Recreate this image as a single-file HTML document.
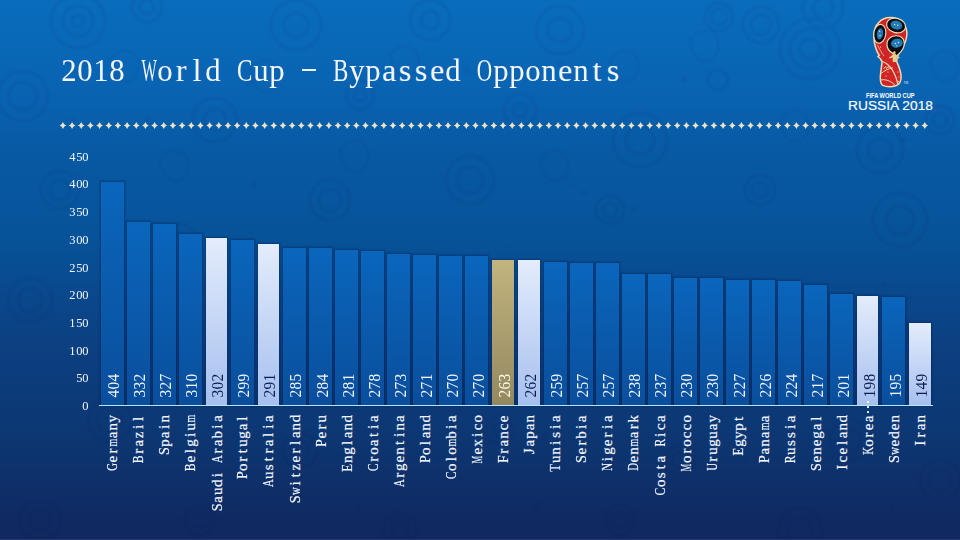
<!DOCTYPE html>
<html><head><meta charset="utf-8"><title>2018 World Cup - Bypassed Opponents</title>
<style>
*{margin:0;padding:0;box-sizing:border-box}
html,body{width:960px;height:540px;overflow:hidden}
body{position:relative;font-family:"Liberation Serif",serif;
background:linear-gradient(180deg,rgb(9,108,188) 0px,rgb(9,105,185) 35px,rgb(9,98,176) 100px,rgb(7,89,162) 155px,rgb(7,86,158) 200px,rgb(7,82,152) 240px,rgb(8,76,145) 275px,rgb(10,70,137) 305px,rgb(12,62,126) 360px,rgb(12,56,116) 425px,rgb(14,48,106) 480px,rgb(16,41,95) 530px,rgb(16,40,94) 540px);}
i{display:inline-block;font-style:normal;text-align:center;white-space:pre;vertical-align:top}
b{display:inline-block;font-weight:normal;text-align:center}
.abs{position:absolute;left:0;top:0}
.title{position:absolute;color:#f4f6ff;white-space:nowrap}
.bar{position:absolute;box-shadow:0 0 2px 1px rgba(0,15,55,.35)}
.bar.b{background:linear-gradient(180deg,#0a66bc,#0a4e9c)}
.bar.l{background:linear-gradient(180deg,#e4ecfc,#a6c0ef)}
.bar.g{background:linear-gradient(180deg,#c2b47e,#938860)}
.axis{position:absolute;left:99px;top:405px;width:834px;height:1px;background:#b8e4ff}
.rot{position:absolute;white-space:nowrap;transform:rotate(-90deg);color:#f2f6ff;-webkit-text-stroke:0.2px currentColor}
.val{-webkit-text-stroke:0}
.val.l{color:#0c1c52}
.val.g{color:#fffbe6}
.yl{position:absolute;white-space:nowrap;color:#f2f6ff}
</style></head>
<body>
<svg class="abs" width="960" height="540" viewBox="0 0 960 540"><defs><filter id="bl" x="-5%" y="-5%" width="110%" height="110%"><feGaussianBlur stdDeviation="0.9"/></filter></defs><g filter="url(#bl)"><g fill="none" stroke="#022a66" opacity="0.065"><circle cx="78" cy="21" r="27" stroke-width="3.2"/><circle cx="78" cy="21" r="15" stroke-width="3.2"/><circle cx="78" cy="21" r="6" stroke-width="3.2"/><circle cx="147" cy="7" r="15" stroke-width="3.2"/><circle cx="147" cy="7" r="7" stroke-width="3.2"/><circle cx="23" cy="96" r="25" stroke-width="3.2"/><circle cx="23" cy="96" r="14" stroke-width="3.2"/><circle cx="296" cy="25" r="25" stroke-width="3.2"/><circle cx="296" cy="25" r="12" stroke-width="3.2"/><circle cx="719" cy="17" r="14" stroke-width="3.2"/><circle cx="719" cy="17" r="8" stroke-width="3.2"/><circle cx="761" cy="25" r="18" stroke-width="3.2"/><circle cx="761" cy="25" r="10" stroke-width="3.2"/><circle cx="810" cy="49" r="30" stroke-width="3.2"/><circle cx="810" cy="49" r="20" stroke-width="3.2"/><circle cx="810" cy="49" r="10" stroke-width="3.2"/><circle cx="718" cy="80" r="10" stroke-width="3.2"/><circle cx="823" cy="8" r="20" stroke-width="3.2"/><circle cx="823" cy="8" r="10" stroke-width="3.2"/><circle cx="430" cy="20" r="20" stroke-width="3.2"/><circle cx="430" cy="20" r="9" stroke-width="3.2"/><circle cx="560" cy="30" r="24" stroke-width="3.2"/><circle cx="560" cy="30" r="12" stroke-width="3.2"/><circle cx="520" cy="110" r="16" stroke-width="3.2"/><circle cx="520" cy="110" r="7" stroke-width="3.2"/><circle cx="215" cy="120" r="22" stroke-width="3.2"/><circle cx="215" cy="120" r="11" stroke-width="3.2"/><circle cx="360" cy="95" r="14" stroke-width="3.2"/><circle cx="360" cy="95" r="6" stroke-width="3.2"/><circle cx="60" cy="190" r="19" stroke-width="3.2"/><circle cx="60" cy="190" r="10" stroke-width="3.2"/><circle cx="180" cy="240" r="16" stroke-width="3.2"/><circle cx="180" cy="240" r="8" stroke-width="3.2"/><circle cx="330" cy="200" r="20" stroke-width="3.2"/><circle cx="330" cy="200" r="11" stroke-width="3.2"/><circle cx="470" cy="180" r="24" stroke-width="3.2"/><circle cx="470" cy="180" r="13" stroke-width="3.2"/><circle cx="610" cy="210" r="14" stroke-width="3.2"/><circle cx="610" cy="210" r="7" stroke-width="3.2"/><circle cx="760" cy="190" r="15" stroke-width="3.2"/><circle cx="760" cy="190" r="8" stroke-width="3.2"/><circle cx="900" cy="220" r="27" stroke-width="3.2"/><circle cx="900" cy="220" r="14" stroke-width="3.2"/><circle cx="30" cy="300" r="22" stroke-width="3.2"/><circle cx="30" cy="300" r="12" stroke-width="3.2"/><circle cx="250" cy="330" r="15" stroke-width="3.2"/><circle cx="250" cy="330" r="8" stroke-width="3.2"/><circle cx="420" cy="300" r="19" stroke-width="3.2"/><circle cx="420" cy="300" r="10" stroke-width="3.2"/><circle cx="580" cy="320" r="23" stroke-width="3.2"/><circle cx="580" cy="320" r="12" stroke-width="3.2"/><circle cx="720" cy="300" r="14" stroke-width="3.2"/><circle cx="720" cy="300" r="7" stroke-width="3.2"/><circle cx="880" cy="330" r="28" stroke-width="3.2"/><circle cx="880" cy="330" r="15" stroke-width="3.2"/><circle cx="110" cy="420" r="22" stroke-width="3.2"/><circle cx="110" cy="420" r="12" stroke-width="3.2"/><circle cx="300" cy="450" r="17" stroke-width="3.2"/><circle cx="300" cy="450" r="9" stroke-width="3.2"/><circle cx="500" cy="430" r="14" stroke-width="3.2"/><circle cx="500" cy="430" r="7" stroke-width="3.2"/><circle cx="680" cy="460" r="15" stroke-width="3.2"/><circle cx="680" cy="460" r="8" stroke-width="3.2"/><circle cx="850" cy="440" r="20" stroke-width="3.2"/><circle cx="850" cy="440" r="11" stroke-width="3.2"/><circle cx="40" cy="520" r="20" stroke-width="3.2"/><circle cx="40" cy="520" r="11" stroke-width="3.2"/><circle cx="200" cy="520" r="15" stroke-width="3.2"/><circle cx="200" cy="520" r="8" stroke-width="3.2"/><circle cx="400" cy="530" r="17" stroke-width="3.2"/><circle cx="400" cy="530" r="9" stroke-width="3.2"/><circle cx="620" cy="520" r="15" stroke-width="3.2"/><circle cx="620" cy="520" r="8" stroke-width="3.2"/><circle cx="800" cy="530" r="22" stroke-width="3.2"/><circle cx="800" cy="530" r="12" stroke-width="3.2"/><circle cx="940" cy="480" r="20" stroke-width="3.2"/><circle cx="940" cy="480" r="11" stroke-width="3.2"/><circle cx="940" cy="120" r="14" stroke-width="3.2"/><circle cx="940" cy="120" r="7" stroke-width="3.2"/><circle cx="640" cy="140" r="27" stroke-width="3.2"/><circle cx="640" cy="140" r="14" stroke-width="3.2"/><circle cx="880" cy="150" r="23" stroke-width="3.2"/><circle cx="880" cy="150" r="12" stroke-width="3.2"/><path d="M110 60 c12 -18 32 -8 28 10 c-4 16 -24 18 -28 -10z" stroke-width="2.2"/><path d="M250 70 c12 -18 32 -8 28 10 c-4 16 -24 18 -28 -10z" stroke-width="2.2"/><path d="M390 55 c12 -18 32 -8 28 10 c-4 16 -24 18 -28 -10z" stroke-width="2.2"/><path d="M610 60 c12 -18 32 -8 28 10 c-4 16 -24 18 -28 -10z" stroke-width="2.2"/><path d="M690 40 c12 -18 32 -8 28 10 c-4 16 -24 18 -28 -10z" stroke-width="2.2"/><path d="M930 60 c12 -18 32 -8 28 10 c-4 16 -24 18 -28 -10z" stroke-width="2.2"/><path d="M160 160 c12 -18 32 -8 28 10 c-4 16 -24 18 -28 -10z" stroke-width="2.2"/><path d="M540 160 c12 -18 32 -8 28 10 c-4 16 -24 18 -28 -10z" stroke-width="2.2"/><path d="M780 120 c12 -18 32 -8 28 10 c-4 16 -24 18 -28 -10z" stroke-width="2.2"/><path d="M340 150 c12 -18 32 -8 28 10 c-4 16 -24 18 -28 -10z" stroke-width="2.2"/></g><g fill="#022a66" opacity="0.06"><circle cx="147" cy="120" r="3.1"/><circle cx="573" cy="185" r="2.2"/><circle cx="584" cy="192" r="2.7"/><circle cx="560" cy="64" r="3.1"/><circle cx="633" cy="210" r="3.0"/><circle cx="544" cy="437" r="3.6"/><circle cx="476" cy="464" r="2.7"/><circle cx="254" cy="184" r="3.4"/><circle cx="249" cy="83" r="3.1"/><circle cx="537" cy="506" r="3.8"/><circle cx="746" cy="459" r="2.6"/><circle cx="74" cy="120" r="3.0"/><circle cx="168" cy="350" r="2.3"/><circle cx="500" cy="431" r="2.1"/><circle cx="684" cy="79" r="3.5"/><circle cx="586" cy="321" r="2.7"/><circle cx="358" cy="508" r="3.2"/><circle cx="467" cy="70" r="3.7"/><circle cx="276" cy="485" r="3.4"/><circle cx="66" cy="62" r="3.5"/><circle cx="317" cy="456" r="2.6"/><circle cx="395" cy="355" r="2.0"/><circle cx="472" cy="363" r="2.3"/><circle cx="119" cy="505" r="2.1"/><circle cx="786" cy="294" r="2.3"/><circle cx="253" cy="407" r="2.8"/><circle cx="892" cy="508" r="2.2"/><circle cx="459" cy="411" r="3.1"/><circle cx="904" cy="140" r="3.6"/><circle cx="884" cy="285" r="3.4"/></g></g></svg>
<svg class="abs" width="960" height="540" viewBox="0 0 960 540"><path d="M62.90 121.90L64.15 124.15L66.20 125.40L64.15 126.65L62.90 128.90L61.65 126.65L59.60 125.40L61.65 124.15ZM72.07 121.90L73.32 124.15L75.37 125.40L73.32 126.65L72.07 128.90L70.82 126.65L68.77 125.40L70.82 124.15ZM81.24 121.90L82.49 124.15L84.54 125.40L82.49 126.65L81.24 128.90L79.99 126.65L77.94 125.40L79.99 124.15ZM90.41 121.90L91.66 124.15L93.71 125.40L91.66 126.65L90.41 128.90L89.16 126.65L87.11 125.40L89.16 124.15ZM99.58 121.90L100.83 124.15L102.88 125.40L100.83 126.65L99.58 128.90L98.33 126.65L96.28 125.40L98.33 124.15ZM108.75 121.90L110.00 124.15L112.05 125.40L110.00 126.65L108.75 128.90L107.50 126.65L105.45 125.40L107.50 124.15ZM117.91 121.90L119.16 124.15L121.21 125.40L119.16 126.65L117.91 128.90L116.66 126.65L114.61 125.40L116.66 124.15ZM127.08 121.90L128.33 124.15L130.38 125.40L128.33 126.65L127.08 128.90L125.83 126.65L123.78 125.40L125.83 124.15ZM136.25 121.90L137.50 124.15L139.55 125.40L137.50 126.65L136.25 128.90L135.00 126.65L132.95 125.40L135.00 124.15ZM145.42 121.90L146.67 124.15L148.72 125.40L146.67 126.65L145.42 128.90L144.17 126.65L142.12 125.40L144.17 124.15ZM154.59 121.90L155.84 124.15L157.89 125.40L155.84 126.65L154.59 128.90L153.34 126.65L151.29 125.40L153.34 124.15ZM163.76 121.90L165.01 124.15L167.06 125.40L165.01 126.65L163.76 128.90L162.51 126.65L160.46 125.40L162.51 124.15ZM172.93 121.90L174.18 124.15L176.23 125.40L174.18 126.65L172.93 128.90L171.68 126.65L169.63 125.40L171.68 124.15ZM182.10 121.90L183.35 124.15L185.40 125.40L183.35 126.65L182.10 128.90L180.85 126.65L178.80 125.40L180.85 124.15ZM191.27 121.90L192.52 124.15L194.57 125.40L192.52 126.65L191.27 128.90L190.02 126.65L187.97 125.40L190.02 124.15ZM200.44 121.90L201.69 124.15L203.74 125.40L201.69 126.65L200.44 128.90L199.19 126.65L197.14 125.40L199.19 124.15ZM209.61 121.90L210.86 124.15L212.91 125.40L210.86 126.65L209.61 128.90L208.36 126.65L206.31 125.40L208.36 124.15ZM218.78 121.90L220.03 124.15L222.08 125.40L220.03 126.65L218.78 128.90L217.53 126.65L215.48 125.40L217.53 124.15ZM227.94 121.90L229.19 124.15L231.24 125.40L229.19 126.65L227.94 128.90L226.69 126.65L224.64 125.40L226.69 124.15ZM237.11 121.90L238.36 124.15L240.41 125.40L238.36 126.65L237.11 128.90L235.86 126.65L233.81 125.40L235.86 124.15ZM246.28 121.90L247.53 124.15L249.58 125.40L247.53 126.65L246.28 128.90L245.03 126.65L242.98 125.40L245.03 124.15ZM255.45 121.90L256.70 124.15L258.75 125.40L256.70 126.65L255.45 128.90L254.20 126.65L252.15 125.40L254.20 124.15ZM264.62 121.90L265.87 124.15L267.92 125.40L265.87 126.65L264.62 128.90L263.37 126.65L261.32 125.40L263.37 124.15ZM273.79 121.90L275.04 124.15L277.09 125.40L275.04 126.65L273.79 128.90L272.54 126.65L270.49 125.40L272.54 124.15ZM282.96 121.90L284.21 124.15L286.26 125.40L284.21 126.65L282.96 128.90L281.71 126.65L279.66 125.40L281.71 124.15ZM292.13 121.90L293.38 124.15L295.43 125.40L293.38 126.65L292.13 128.90L290.88 126.65L288.83 125.40L290.88 124.15ZM301.30 121.90L302.55 124.15L304.60 125.40L302.55 126.65L301.30 128.90L300.05 126.65L298.00 125.40L300.05 124.15ZM310.47 121.90L311.72 124.15L313.77 125.40L311.72 126.65L310.47 128.90L309.22 126.65L307.17 125.40L309.22 124.15ZM319.64 121.90L320.89 124.15L322.94 125.40L320.89 126.65L319.64 128.90L318.39 126.65L316.34 125.40L318.39 124.15ZM328.81 121.90L330.06 124.15L332.11 125.40L330.06 126.65L328.81 128.90L327.56 126.65L325.51 125.40L327.56 124.15ZM337.97 121.90L339.22 124.15L341.27 125.40L339.22 126.65L337.97 128.90L336.72 126.65L334.67 125.40L336.72 124.15ZM347.14 121.90L348.39 124.15L350.44 125.40L348.39 126.65L347.14 128.90L345.89 126.65L343.84 125.40L345.89 124.15ZM356.31 121.90L357.56 124.15L359.61 125.40L357.56 126.65L356.31 128.90L355.06 126.65L353.01 125.40L355.06 124.15ZM365.48 121.90L366.73 124.15L368.78 125.40L366.73 126.65L365.48 128.90L364.23 126.65L362.18 125.40L364.23 124.15ZM374.65 121.90L375.90 124.15L377.95 125.40L375.90 126.65L374.65 128.90L373.40 126.65L371.35 125.40L373.40 124.15ZM383.82 121.90L385.07 124.15L387.12 125.40L385.07 126.65L383.82 128.90L382.57 126.65L380.52 125.40L382.57 124.15ZM392.99 121.90L394.24 124.15L396.29 125.40L394.24 126.65L392.99 128.90L391.74 126.65L389.69 125.40L391.74 124.15ZM402.16 121.90L403.41 124.15L405.46 125.40L403.41 126.65L402.16 128.90L400.91 126.65L398.86 125.40L400.91 124.15ZM411.33 121.90L412.58 124.15L414.63 125.40L412.58 126.65L411.33 128.90L410.08 126.65L408.03 125.40L410.08 124.15ZM420.50 121.90L421.75 124.15L423.80 125.40L421.75 126.65L420.50 128.90L419.25 126.65L417.20 125.40L419.25 124.15ZM429.67 121.90L430.92 124.15L432.97 125.40L430.92 126.65L429.67 128.90L428.42 126.65L426.37 125.40L428.42 124.15ZM438.84 121.90L440.09 124.15L442.14 125.40L440.09 126.65L438.84 128.90L437.59 126.65L435.54 125.40L437.59 124.15ZM448.00 121.90L449.25 124.15L451.30 125.40L449.25 126.65L448.00 128.90L446.75 126.65L444.70 125.40L446.75 124.15ZM457.17 121.90L458.42 124.15L460.47 125.40L458.42 126.65L457.17 128.90L455.92 126.65L453.87 125.40L455.92 124.15ZM466.34 121.90L467.59 124.15L469.64 125.40L467.59 126.65L466.34 128.90L465.09 126.65L463.04 125.40L465.09 124.15ZM475.51 121.90L476.76 124.15L478.81 125.40L476.76 126.65L475.51 128.90L474.26 126.65L472.21 125.40L474.26 124.15ZM484.68 121.90L485.93 124.15L487.98 125.40L485.93 126.65L484.68 128.90L483.43 126.65L481.38 125.40L483.43 124.15ZM493.85 121.90L495.10 124.15L497.15 125.40L495.10 126.65L493.85 128.90L492.60 126.65L490.55 125.40L492.60 124.15ZM503.02 121.90L504.27 124.15L506.32 125.40L504.27 126.65L503.02 128.90L501.77 126.65L499.72 125.40L501.77 124.15ZM512.19 121.90L513.44 124.15L515.49 125.40L513.44 126.65L512.19 128.90L510.94 126.65L508.89 125.40L510.94 124.15ZM521.36 121.90L522.61 124.15L524.66 125.40L522.61 126.65L521.36 128.90L520.11 126.65L518.06 125.40L520.11 124.15ZM530.53 121.90L531.78 124.15L533.83 125.40L531.78 126.65L530.53 128.90L529.28 126.65L527.23 125.40L529.28 124.15ZM539.70 121.90L540.95 124.15L543.00 125.40L540.95 126.65L539.70 128.90L538.45 126.65L536.40 125.40L538.45 124.15ZM548.86 121.90L550.11 124.15L552.16 125.40L550.11 126.65L548.86 128.90L547.61 126.65L545.56 125.40L547.61 124.15ZM558.03 121.90L559.28 124.15L561.33 125.40L559.28 126.65L558.03 128.90L556.78 126.65L554.73 125.40L556.78 124.15ZM567.20 121.90L568.45 124.15L570.50 125.40L568.45 126.65L567.20 128.90L565.95 126.65L563.90 125.40L565.95 124.15ZM576.37 121.90L577.62 124.15L579.67 125.40L577.62 126.65L576.37 128.90L575.12 126.65L573.07 125.40L575.12 124.15ZM585.54 121.90L586.79 124.15L588.84 125.40L586.79 126.65L585.54 128.90L584.29 126.65L582.24 125.40L584.29 124.15ZM594.71 121.90L595.96 124.15L598.01 125.40L595.96 126.65L594.71 128.90L593.46 126.65L591.41 125.40L593.46 124.15ZM603.88 121.90L605.13 124.15L607.18 125.40L605.13 126.65L603.88 128.90L602.63 126.65L600.58 125.40L602.63 124.15ZM613.05 121.90L614.30 124.15L616.35 125.40L614.30 126.65L613.05 128.90L611.80 126.65L609.75 125.40L611.80 124.15ZM622.22 121.90L623.47 124.15L625.52 125.40L623.47 126.65L622.22 128.90L620.97 126.65L618.92 125.40L620.97 124.15ZM631.39 121.90L632.64 124.15L634.69 125.40L632.64 126.65L631.39 128.90L630.14 126.65L628.09 125.40L630.14 124.15ZM640.56 121.90L641.81 124.15L643.86 125.40L641.81 126.65L640.56 128.90L639.31 126.65L637.26 125.40L639.31 124.15ZM649.73 121.90L650.98 124.15L653.03 125.40L650.98 126.65L649.73 128.90L648.48 126.65L646.43 125.40L648.48 124.15ZM658.89 121.90L660.14 124.15L662.19 125.40L660.14 126.65L658.89 128.90L657.64 126.65L655.59 125.40L657.64 124.15ZM668.06 121.90L669.31 124.15L671.36 125.40L669.31 126.65L668.06 128.90L666.81 126.65L664.76 125.40L666.81 124.15ZM677.23 121.90L678.48 124.15L680.53 125.40L678.48 126.65L677.23 128.90L675.98 126.65L673.93 125.40L675.98 124.15ZM686.40 121.90L687.65 124.15L689.70 125.40L687.65 126.65L686.40 128.90L685.15 126.65L683.10 125.40L685.15 124.15ZM695.57 121.90L696.82 124.15L698.87 125.40L696.82 126.65L695.57 128.90L694.32 126.65L692.27 125.40L694.32 124.15ZM704.74 121.90L705.99 124.15L708.04 125.40L705.99 126.65L704.74 128.90L703.49 126.65L701.44 125.40L703.49 124.15ZM713.91 121.90L715.16 124.15L717.21 125.40L715.16 126.65L713.91 128.90L712.66 126.65L710.61 125.40L712.66 124.15ZM723.08 121.90L724.33 124.15L726.38 125.40L724.33 126.65L723.08 128.90L721.83 126.65L719.78 125.40L721.83 124.15ZM732.25 121.90L733.50 124.15L735.55 125.40L733.50 126.65L732.25 128.90L731.00 126.65L728.95 125.40L731.00 124.15ZM741.42 121.90L742.67 124.15L744.72 125.40L742.67 126.65L741.42 128.90L740.17 126.65L738.12 125.40L740.17 124.15ZM750.59 121.90L751.84 124.15L753.89 125.40L751.84 126.65L750.59 128.90L749.34 126.65L747.29 125.40L749.34 124.15ZM759.76 121.90L761.01 124.15L763.06 125.40L761.01 126.65L759.76 128.90L758.51 126.65L756.46 125.40L758.51 124.15ZM768.92 121.90L770.17 124.15L772.22 125.40L770.17 126.65L768.92 128.90L767.67 126.65L765.62 125.40L767.67 124.15ZM778.09 121.90L779.34 124.15L781.39 125.40L779.34 126.65L778.09 128.90L776.84 126.65L774.79 125.40L776.84 124.15ZM787.26 121.90L788.51 124.15L790.56 125.40L788.51 126.65L787.26 128.90L786.01 126.65L783.96 125.40L786.01 124.15ZM796.43 121.90L797.68 124.15L799.73 125.40L797.68 126.65L796.43 128.90L795.18 126.65L793.13 125.40L795.18 124.15ZM805.60 121.90L806.85 124.15L808.90 125.40L806.85 126.65L805.60 128.90L804.35 126.65L802.30 125.40L804.35 124.15ZM814.77 121.90L816.02 124.15L818.07 125.40L816.02 126.65L814.77 128.90L813.52 126.65L811.47 125.40L813.52 124.15ZM823.94 121.90L825.19 124.15L827.24 125.40L825.19 126.65L823.94 128.90L822.69 126.65L820.64 125.40L822.69 124.15ZM833.11 121.90L834.36 124.15L836.41 125.40L834.36 126.65L833.11 128.90L831.86 126.65L829.81 125.40L831.86 124.15ZM842.28 121.90L843.53 124.15L845.58 125.40L843.53 126.65L842.28 128.90L841.03 126.65L838.98 125.40L841.03 124.15ZM851.45 121.90L852.70 124.15L854.75 125.40L852.70 126.65L851.45 128.90L850.20 126.65L848.15 125.40L850.20 124.15ZM860.62 121.90L861.87 124.15L863.92 125.40L861.87 126.65L860.62 128.90L859.37 126.65L857.32 125.40L859.37 124.15ZM869.79 121.90L871.04 124.15L873.09 125.40L871.04 126.65L869.79 128.90L868.54 126.65L866.49 125.40L868.54 124.15ZM878.95 121.90L880.20 124.15L882.25 125.40L880.20 126.65L878.95 128.90L877.70 126.65L875.65 125.40L877.70 124.15ZM888.12 121.90L889.37 124.15L891.42 125.40L889.37 126.65L888.12 128.90L886.87 126.65L884.82 125.40L886.87 124.15ZM897.29 121.90L898.54 124.15L900.59 125.40L898.54 126.65L897.29 128.90L896.04 126.65L893.99 125.40L896.04 124.15ZM906.46 121.90L907.71 124.15L909.76 125.40L907.71 126.65L906.46 128.90L905.21 126.65L903.16 125.40L905.21 124.15ZM915.63 121.90L916.88 124.15L918.93 125.40L916.88 126.65L915.63 128.90L914.38 126.65L912.33 125.40L914.38 124.15ZM924.80 121.90L926.05 124.15L928.10 125.40L926.05 126.65L924.80 128.90L923.55 126.65L921.50 125.40L923.55 124.15Z" fill="#ece4c8"/></svg>
<div class="title" style="left:61.0px;top:49.5px;height:40px;line-height:40px;font-size:32px"><i style="width:16px"><b style="width:16.00px;margin-left:-0.00px;transform:scaleX(0.960)">2</b></i><i style="width:16px"><b style="width:16.00px;margin-left:-0.00px;transform:scaleX(0.960)">0</b></i><i style="width:16px"><b style="width:16.00px;margin-left:-0.00px;transform:scaleX(0.960)">1</b></i><i style="width:16px"><b style="width:16.00px;margin-left:-0.00px;transform:scaleX(0.960)">8</b></i><i style="width:16px"> </i><i style="width:16px"><b style="width:30.20px;margin-left:-7.10px;transform:scaleX(0.509)">W</b></i><i style="width:16px"><b style="width:16.00px;margin-left:-0.00px;transform:scaleX(0.960)">o</b></i><i style="width:16px">r</i><i style="width:16px">l</i><i style="width:16px"><b style="width:16.00px;margin-left:-0.00px;transform:scaleX(0.960)">d</b></i><i style="width:16px"> </i><i style="width:16px"><b style="width:21.34px;margin-left:-2.67px;transform:scaleX(0.720)">C</b></i><i style="width:16px"><b style="width:16.00px;margin-left:-0.00px;transform:scaleX(0.960)">u</b></i><i style="width:16px"><b style="width:16.00px;margin-left:-0.00px;transform:scaleX(0.960)">p</b></i><i style="width:16px"> </i><i style="width:16px"> </i><i style="width:16px"> </i><i style="width:16px"><b style="width:21.34px;margin-left:-2.67px;transform:scaleX(0.720)">B</b></i><i style="width:16px"><b style="width:16.00px;margin-left:-0.00px;transform:scaleX(0.960)">y</b></i><i style="width:16px"><b style="width:16.00px;margin-left:-0.00px;transform:scaleX(0.960)">p</b></i><i style="width:16px">a</i><i style="width:16px">s</i><i style="width:16px">s</i><i style="width:16px">e</i><i style="width:16px"><b style="width:16.00px;margin-left:-0.00px;transform:scaleX(0.960)">d</b></i><i style="width:16px"> </i><i style="width:16px"><b style="width:23.11px;margin-left:-3.55px;transform:scaleX(0.665)">O</b></i><i style="width:16px"><b style="width:16.00px;margin-left:-0.00px;transform:scaleX(0.960)">p</b></i><i style="width:16px"><b style="width:16.00px;margin-left:-0.00px;transform:scaleX(0.960)">p</b></i><i style="width:16px"><b style="width:16.00px;margin-left:-0.00px;transform:scaleX(0.960)">o</b></i><i style="width:16px"><b style="width:16.00px;margin-left:-0.00px;transform:scaleX(0.960)">n</b></i><i style="width:16px">e</i><i style="width:16px"><b style="width:16.00px;margin-left:-0.00px;transform:scaleX(0.960)">n</b></i><i style="width:16px">t</i><i style="width:16px">s</i></div>
<svg class="abs" width="960" height="540" viewBox="0 0 960 540">
<path d="M890.4 17.6 C900.3 17.6 907.1 25.2 906.9 34 C906.7 41 903.9 45.8 900.9 49.7 C898.8 52.8 896.8 57.3 896.6 61.4 C898.8 66.2 901.1 71.1 901.1 77 C901.1 81.7 899.9 84.4 895.8 85.8 C891.9 86.8 886.2 86.8 882.8 85.4 C880.6 84.1 880.2 80.9 880.3 77 C880.5 71 881.9 66 882 61.8 C881.2 59.2 879.6 57.7 878 56.5 L879.3 55.4 C877 52 875.2 47 874.3 42 C873.9 39 873.9 36 874 34 C874.2 25 881 17.6 890.4 17.6 Z" fill="#cf2529" stroke="#f0dcae" stroke-width="1.5"/>
<path d="M882.2 61.5 C888.5 63.5 894.5 70 898 84.5" stroke="#f0dcae" stroke-width="1.3" fill="none"/>
<path d="M881.2 73.5 C884.5 70.5 888.5 68.5 892.8 67.8 M880.8 80 C886 78.8 892 81.5 895.5 85.8" stroke="#f0dcae" stroke-width="1" fill="none"/>
<path d="M883.5 69 L885.5 66.5 L886.5 68.5 L888.8 65.8 L889.2 68" stroke="#f0dcae" stroke-width="0.8" fill="none"/>
<path d="M877.5 45 C879.5 49 881.5 53 884 56" stroke="#f0dcae" stroke-width="0.9" fill="none" opacity="0.8"/>
<ellipse cx="896.1" cy="25.5" rx="10.2" ry="7.7" transform="rotate(16 896.1 25.5)" fill="#f0dcae"/>
<ellipse cx="896.1" cy="25.5" rx="9.1" ry="6.6" transform="rotate(16 896.1 25.5)" fill="#080a12"/>
<ellipse cx="896.4" cy="25.1" rx="6" ry="4.4" transform="rotate(16 896.4 25.1)" fill="#2478b4"/>
<ellipse cx="879.8" cy="33.8" rx="6.5" ry="10" transform="rotate(8 879.8 33.8)" fill="#f0dcae"/>
<ellipse cx="879.8" cy="33.8" rx="5.4" ry="8.9" transform="rotate(8 879.8 33.8)" fill="#080a12"/>
<ellipse cx="880" cy="33.8" rx="3.1" ry="5.7" transform="rotate(8 880 33.8)" fill="#2478b4"/>
<path d="M886.4 44.5 C886.4 38.2 891.4 35.2 896.3 35.2 C901.9 35.2 905.1 38.8 904.9 43.8 C904.6 48.5 902 51.5 899.2 54.5 L896.6 57 L894 54.8 C890 52.6 886.4 49.5 886.4 44.5 Z" fill="#f0dcae"/>
<path d="M887.6 44.5 C887.6 39 891.9 36.3 896.3 36.3 C901 36.3 903.8 39.5 903.7 43.8 C903.4 48 901 50.8 898.4 53.5 L896.5 55.3 L894.6 53.6 C890.8 51.6 887.6 48.9 887.6 44.5 Z" fill="#080a12"/>
<ellipse cx="896.9" cy="43.2" rx="6" ry="4.5" transform="rotate(-12 896.9 43.2)" fill="#2478b4"/>
<circle cx="894.4" cy="52.6" r="1.3" fill="#e8cd8c"/>
<path d="M888.8 57.8 L891.8 55.6 L893 54.2 L895.8 54.2 L897.2 55.6 L900 57.8 L898.8 58.4 L896.4 57.2 L896.2 62 L892.8 62 L892.6 57.2 L890 58.4 Z" fill="#e8cd8c"/>
<g fill="#cfeeff"><circle cx="894.6" cy="24.4" r="0.75"/><circle cx="897.8" cy="25.3" r="0.75"/><circle cx="879.5" cy="31.2" r="0.75"/><circle cx="880" cy="35.8" r="0.75"/><circle cx="895.3" cy="43.5" r="0.75"/><circle cx="898.4" cy="42.4" r="0.75"/><circle cx="896.5" cy="45.8" r="0.6"/></g>
<g fill="#f6e6c8"><circle cx="888" cy="72" r="0.6"/><circle cx="886" cy="76" r="0.6"/><circle cx="897.8" cy="72" r="0.6"/><circle cx="898.8" cy="77" r="0.6"/><circle cx="898.6" cy="81.5" r="0.6"/><circle cx="880.5" cy="47" r="0.6"/></g>
<text x="903.5" y="84" font-family="Liberation Sans" font-size="3.2" fill="#cfe6ff">TM</text>
<text x="866" y="98" font-family="Liberation Sans" font-weight="bold" font-size="6.4" fill="#fff" textLength="48.5" lengthAdjust="spacingAndGlyphs">FIFA WORLD CUP</text>
<text x="848" y="110.2" font-family="Liberation Sans" font-size="13.2" fill="#fff" textLength="85" lengthAdjust="spacingAndGlyphs" stroke="#fff" stroke-width="0.15">RUSSIA 2018</text>
</svg>

<div class="bar b" style="left:100.50px;top:181.68px;width:23.06px;height:223.82px"></div><div class="bar b" style="left:126.56px;top:221.57px;width:23.06px;height:183.93px"></div><div class="bar b" style="left:152.62px;top:224.34px;width:23.06px;height:181.16px"></div><div class="bar b" style="left:178.69px;top:233.76px;width:23.06px;height:171.74px"></div><div class="bar l" style="left:205.65px;top:238.19px;width:21.26px;height:167.31px"></div><div class="bar b" style="left:230.81px;top:239.85px;width:23.06px;height:165.65px"></div><div class="bar l" style="left:257.77px;top:244.29px;width:21.26px;height:161.21px"></div><div class="bar b" style="left:282.94px;top:247.61px;width:23.06px;height:157.89px"></div><div class="bar b" style="left:309.00px;top:248.16px;width:23.06px;height:157.34px"></div><div class="bar b" style="left:335.06px;top:249.83px;width:23.06px;height:155.67px"></div><div class="bar b" style="left:361.12px;top:251.49px;width:23.06px;height:154.01px"></div><div class="bar b" style="left:387.19px;top:254.26px;width:23.06px;height:151.24px"></div><div class="bar b" style="left:413.25px;top:255.37px;width:23.06px;height:150.13px"></div><div class="bar b" style="left:439.31px;top:255.92px;width:23.06px;height:149.58px"></div><div class="bar b" style="left:465.38px;top:255.92px;width:23.06px;height:149.58px"></div><div class="bar g" style="left:492.34px;top:259.80px;width:21.26px;height:145.70px"></div><div class="bar l" style="left:518.40px;top:260.35px;width:21.26px;height:145.15px"></div><div class="bar b" style="left:543.56px;top:262.01px;width:23.06px;height:143.49px"></div><div class="bar b" style="left:569.62px;top:263.12px;width:23.06px;height:142.38px"></div><div class="bar b" style="left:595.69px;top:263.12px;width:23.06px;height:142.38px"></div><div class="bar b" style="left:621.75px;top:273.65px;width:23.06px;height:131.85px"></div><div class="bar b" style="left:647.81px;top:274.20px;width:23.06px;height:131.30px"></div><div class="bar b" style="left:673.88px;top:278.08px;width:23.06px;height:127.42px"></div><div class="bar b" style="left:699.94px;top:278.08px;width:23.06px;height:127.42px"></div><div class="bar b" style="left:726.00px;top:279.74px;width:23.06px;height:125.76px"></div><div class="bar b" style="left:752.06px;top:280.30px;width:23.06px;height:125.20px"></div><div class="bar b" style="left:778.12px;top:281.40px;width:23.06px;height:124.10px"></div><div class="bar b" style="left:804.19px;top:285.28px;width:23.06px;height:120.22px"></div><div class="bar b" style="left:830.25px;top:294.15px;width:23.06px;height:111.35px"></div><div class="bar l" style="left:857.21px;top:295.81px;width:21.26px;height:109.69px"></div><div class="bar b" style="left:882.38px;top:297.47px;width:23.06px;height:108.03px"></div><div class="bar l" style="left:909.34px;top:322.95px;width:21.26px;height:82.55px"></div><div class="rot val b" style="left:102.03px;top:376.30px;width:24px;height:20px;line-height:20px;font-size:17px"><i style="width:8px"><b style="width:8.50px;margin-left:-0.25px;transform:scaleX(0.904)">4</b></i><i style="width:8px"><b style="width:8.50px;margin-left:-0.25px;transform:scaleX(0.904)">0</b></i><i style="width:8px"><b style="width:8.50px;margin-left:-0.25px;transform:scaleX(0.904)">4</b></i></div><div class="rot val b" style="left:128.09px;top:376.30px;width:24px;height:20px;line-height:20px;font-size:17px"><i style="width:8px"><b style="width:8.50px;margin-left:-0.25px;transform:scaleX(0.904)">3</b></i><i style="width:8px"><b style="width:8.50px;margin-left:-0.25px;transform:scaleX(0.904)">3</b></i><i style="width:8px"><b style="width:8.50px;margin-left:-0.25px;transform:scaleX(0.904)">2</b></i></div><div class="rot val b" style="left:154.16px;top:376.30px;width:24px;height:20px;line-height:20px;font-size:17px"><i style="width:8px"><b style="width:8.50px;margin-left:-0.25px;transform:scaleX(0.904)">3</b></i><i style="width:8px"><b style="width:8.50px;margin-left:-0.25px;transform:scaleX(0.904)">2</b></i><i style="width:8px"><b style="width:8.50px;margin-left:-0.25px;transform:scaleX(0.904)">7</b></i></div><div class="rot val b" style="left:180.22px;top:376.30px;width:24px;height:20px;line-height:20px;font-size:17px"><i style="width:8px"><b style="width:8.50px;margin-left:-0.25px;transform:scaleX(0.904)">3</b></i><i style="width:8px"><b style="width:8.50px;margin-left:-0.25px;transform:scaleX(0.904)">1</b></i><i style="width:8px"><b style="width:8.50px;margin-left:-0.25px;transform:scaleX(0.904)">0</b></i></div><div class="rot val l" style="left:206.28px;top:376.30px;width:24px;height:20px;line-height:20px;font-size:17px"><i style="width:8px"><b style="width:8.50px;margin-left:-0.25px;transform:scaleX(0.904)">3</b></i><i style="width:8px"><b style="width:8.50px;margin-left:-0.25px;transform:scaleX(0.904)">0</b></i><i style="width:8px"><b style="width:8.50px;margin-left:-0.25px;transform:scaleX(0.904)">2</b></i></div><div class="rot val b" style="left:232.34px;top:376.30px;width:24px;height:20px;line-height:20px;font-size:17px"><i style="width:8px"><b style="width:8.50px;margin-left:-0.25px;transform:scaleX(0.904)">2</b></i><i style="width:8px"><b style="width:8.50px;margin-left:-0.25px;transform:scaleX(0.904)">9</b></i><i style="width:8px"><b style="width:8.50px;margin-left:-0.25px;transform:scaleX(0.904)">9</b></i></div><div class="rot val l" style="left:258.41px;top:376.30px;width:24px;height:20px;line-height:20px;font-size:17px"><i style="width:8px"><b style="width:8.50px;margin-left:-0.25px;transform:scaleX(0.904)">2</b></i><i style="width:8px"><b style="width:8.50px;margin-left:-0.25px;transform:scaleX(0.904)">9</b></i><i style="width:8px"><b style="width:8.50px;margin-left:-0.25px;transform:scaleX(0.904)">1</b></i></div><div class="rot val b" style="left:284.47px;top:376.30px;width:24px;height:20px;line-height:20px;font-size:17px"><i style="width:8px"><b style="width:8.50px;margin-left:-0.25px;transform:scaleX(0.904)">2</b></i><i style="width:8px"><b style="width:8.50px;margin-left:-0.25px;transform:scaleX(0.904)">8</b></i><i style="width:8px"><b style="width:8.50px;margin-left:-0.25px;transform:scaleX(0.904)">5</b></i></div><div class="rot val b" style="left:310.53px;top:376.30px;width:24px;height:20px;line-height:20px;font-size:17px"><i style="width:8px"><b style="width:8.50px;margin-left:-0.25px;transform:scaleX(0.904)">2</b></i><i style="width:8px"><b style="width:8.50px;margin-left:-0.25px;transform:scaleX(0.904)">8</b></i><i style="width:8px"><b style="width:8.50px;margin-left:-0.25px;transform:scaleX(0.904)">4</b></i></div><div class="rot val b" style="left:336.59px;top:376.30px;width:24px;height:20px;line-height:20px;font-size:17px"><i style="width:8px"><b style="width:8.50px;margin-left:-0.25px;transform:scaleX(0.904)">2</b></i><i style="width:8px"><b style="width:8.50px;margin-left:-0.25px;transform:scaleX(0.904)">8</b></i><i style="width:8px"><b style="width:8.50px;margin-left:-0.25px;transform:scaleX(0.904)">1</b></i></div><div class="rot val b" style="left:362.66px;top:376.30px;width:24px;height:20px;line-height:20px;font-size:17px"><i style="width:8px"><b style="width:8.50px;margin-left:-0.25px;transform:scaleX(0.904)">2</b></i><i style="width:8px"><b style="width:8.50px;margin-left:-0.25px;transform:scaleX(0.904)">7</b></i><i style="width:8px"><b style="width:8.50px;margin-left:-0.25px;transform:scaleX(0.904)">8</b></i></div><div class="rot val b" style="left:388.72px;top:376.30px;width:24px;height:20px;line-height:20px;font-size:17px"><i style="width:8px"><b style="width:8.50px;margin-left:-0.25px;transform:scaleX(0.904)">2</b></i><i style="width:8px"><b style="width:8.50px;margin-left:-0.25px;transform:scaleX(0.904)">7</b></i><i style="width:8px"><b style="width:8.50px;margin-left:-0.25px;transform:scaleX(0.904)">3</b></i></div><div class="rot val b" style="left:414.78px;top:376.30px;width:24px;height:20px;line-height:20px;font-size:17px"><i style="width:8px"><b style="width:8.50px;margin-left:-0.25px;transform:scaleX(0.904)">2</b></i><i style="width:8px"><b style="width:8.50px;margin-left:-0.25px;transform:scaleX(0.904)">7</b></i><i style="width:8px"><b style="width:8.50px;margin-left:-0.25px;transform:scaleX(0.904)">1</b></i></div><div class="rot val b" style="left:440.84px;top:376.30px;width:24px;height:20px;line-height:20px;font-size:17px"><i style="width:8px"><b style="width:8.50px;margin-left:-0.25px;transform:scaleX(0.904)">2</b></i><i style="width:8px"><b style="width:8.50px;margin-left:-0.25px;transform:scaleX(0.904)">7</b></i><i style="width:8px"><b style="width:8.50px;margin-left:-0.25px;transform:scaleX(0.904)">0</b></i></div><div class="rot val b" style="left:466.91px;top:376.30px;width:24px;height:20px;line-height:20px;font-size:17px"><i style="width:8px"><b style="width:8.50px;margin-left:-0.25px;transform:scaleX(0.904)">2</b></i><i style="width:8px"><b style="width:8.50px;margin-left:-0.25px;transform:scaleX(0.904)">7</b></i><i style="width:8px"><b style="width:8.50px;margin-left:-0.25px;transform:scaleX(0.904)">0</b></i></div><div class="rot val g" style="left:492.97px;top:376.30px;width:24px;height:20px;line-height:20px;font-size:17px"><i style="width:8px"><b style="width:8.50px;margin-left:-0.25px;transform:scaleX(0.904)">2</b></i><i style="width:8px"><b style="width:8.50px;margin-left:-0.25px;transform:scaleX(0.904)">6</b></i><i style="width:8px"><b style="width:8.50px;margin-left:-0.25px;transform:scaleX(0.904)">3</b></i></div><div class="rot val l" style="left:519.03px;top:376.30px;width:24px;height:20px;line-height:20px;font-size:17px"><i style="width:8px"><b style="width:8.50px;margin-left:-0.25px;transform:scaleX(0.904)">2</b></i><i style="width:8px"><b style="width:8.50px;margin-left:-0.25px;transform:scaleX(0.904)">6</b></i><i style="width:8px"><b style="width:8.50px;margin-left:-0.25px;transform:scaleX(0.904)">2</b></i></div><div class="rot val b" style="left:545.09px;top:376.30px;width:24px;height:20px;line-height:20px;font-size:17px"><i style="width:8px"><b style="width:8.50px;margin-left:-0.25px;transform:scaleX(0.904)">2</b></i><i style="width:8px"><b style="width:8.50px;margin-left:-0.25px;transform:scaleX(0.904)">5</b></i><i style="width:8px"><b style="width:8.50px;margin-left:-0.25px;transform:scaleX(0.904)">9</b></i></div><div class="rot val b" style="left:571.16px;top:376.30px;width:24px;height:20px;line-height:20px;font-size:17px"><i style="width:8px"><b style="width:8.50px;margin-left:-0.25px;transform:scaleX(0.904)">2</b></i><i style="width:8px"><b style="width:8.50px;margin-left:-0.25px;transform:scaleX(0.904)">5</b></i><i style="width:8px"><b style="width:8.50px;margin-left:-0.25px;transform:scaleX(0.904)">7</b></i></div><div class="rot val b" style="left:597.22px;top:376.30px;width:24px;height:20px;line-height:20px;font-size:17px"><i style="width:8px"><b style="width:8.50px;margin-left:-0.25px;transform:scaleX(0.904)">2</b></i><i style="width:8px"><b style="width:8.50px;margin-left:-0.25px;transform:scaleX(0.904)">5</b></i><i style="width:8px"><b style="width:8.50px;margin-left:-0.25px;transform:scaleX(0.904)">7</b></i></div><div class="rot val b" style="left:623.28px;top:376.30px;width:24px;height:20px;line-height:20px;font-size:17px"><i style="width:8px"><b style="width:8.50px;margin-left:-0.25px;transform:scaleX(0.904)">2</b></i><i style="width:8px"><b style="width:8.50px;margin-left:-0.25px;transform:scaleX(0.904)">3</b></i><i style="width:8px"><b style="width:8.50px;margin-left:-0.25px;transform:scaleX(0.904)">8</b></i></div><div class="rot val b" style="left:649.34px;top:376.30px;width:24px;height:20px;line-height:20px;font-size:17px"><i style="width:8px"><b style="width:8.50px;margin-left:-0.25px;transform:scaleX(0.904)">2</b></i><i style="width:8px"><b style="width:8.50px;margin-left:-0.25px;transform:scaleX(0.904)">3</b></i><i style="width:8px"><b style="width:8.50px;margin-left:-0.25px;transform:scaleX(0.904)">7</b></i></div><div class="rot val b" style="left:675.41px;top:376.30px;width:24px;height:20px;line-height:20px;font-size:17px"><i style="width:8px"><b style="width:8.50px;margin-left:-0.25px;transform:scaleX(0.904)">2</b></i><i style="width:8px"><b style="width:8.50px;margin-left:-0.25px;transform:scaleX(0.904)">3</b></i><i style="width:8px"><b style="width:8.50px;margin-left:-0.25px;transform:scaleX(0.904)">0</b></i></div><div class="rot val b" style="left:701.47px;top:376.30px;width:24px;height:20px;line-height:20px;font-size:17px"><i style="width:8px"><b style="width:8.50px;margin-left:-0.25px;transform:scaleX(0.904)">2</b></i><i style="width:8px"><b style="width:8.50px;margin-left:-0.25px;transform:scaleX(0.904)">3</b></i><i style="width:8px"><b style="width:8.50px;margin-left:-0.25px;transform:scaleX(0.904)">0</b></i></div><div class="rot val b" style="left:727.53px;top:376.30px;width:24px;height:20px;line-height:20px;font-size:17px"><i style="width:8px"><b style="width:8.50px;margin-left:-0.25px;transform:scaleX(0.904)">2</b></i><i style="width:8px"><b style="width:8.50px;margin-left:-0.25px;transform:scaleX(0.904)">2</b></i><i style="width:8px"><b style="width:8.50px;margin-left:-0.25px;transform:scaleX(0.904)">7</b></i></div><div class="rot val b" style="left:753.59px;top:376.30px;width:24px;height:20px;line-height:20px;font-size:17px"><i style="width:8px"><b style="width:8.50px;margin-left:-0.25px;transform:scaleX(0.904)">2</b></i><i style="width:8px"><b style="width:8.50px;margin-left:-0.25px;transform:scaleX(0.904)">2</b></i><i style="width:8px"><b style="width:8.50px;margin-left:-0.25px;transform:scaleX(0.904)">6</b></i></div><div class="rot val b" style="left:779.66px;top:376.30px;width:24px;height:20px;line-height:20px;font-size:17px"><i style="width:8px"><b style="width:8.50px;margin-left:-0.25px;transform:scaleX(0.904)">2</b></i><i style="width:8px"><b style="width:8.50px;margin-left:-0.25px;transform:scaleX(0.904)">2</b></i><i style="width:8px"><b style="width:8.50px;margin-left:-0.25px;transform:scaleX(0.904)">4</b></i></div><div class="rot val b" style="left:805.72px;top:376.30px;width:24px;height:20px;line-height:20px;font-size:17px"><i style="width:8px"><b style="width:8.50px;margin-left:-0.25px;transform:scaleX(0.904)">2</b></i><i style="width:8px"><b style="width:8.50px;margin-left:-0.25px;transform:scaleX(0.904)">1</b></i><i style="width:8px"><b style="width:8.50px;margin-left:-0.25px;transform:scaleX(0.904)">7</b></i></div><div class="rot val b" style="left:831.78px;top:376.30px;width:24px;height:20px;line-height:20px;font-size:17px"><i style="width:8px"><b style="width:8.50px;margin-left:-0.25px;transform:scaleX(0.904)">2</b></i><i style="width:8px"><b style="width:8.50px;margin-left:-0.25px;transform:scaleX(0.904)">0</b></i><i style="width:8px"><b style="width:8.50px;margin-left:-0.25px;transform:scaleX(0.904)">1</b></i></div><div class="rot val l" style="left:857.84px;top:376.30px;width:24px;height:20px;line-height:20px;font-size:17px"><i style="width:8px"><b style="width:8.50px;margin-left:-0.25px;transform:scaleX(0.904)">1</b></i><i style="width:8px"><b style="width:8.50px;margin-left:-0.25px;transform:scaleX(0.904)">9</b></i><i style="width:8px"><b style="width:8.50px;margin-left:-0.25px;transform:scaleX(0.904)">8</b></i></div><div class="rot val b" style="left:883.91px;top:376.30px;width:24px;height:20px;line-height:20px;font-size:17px"><i style="width:8px"><b style="width:8.50px;margin-left:-0.25px;transform:scaleX(0.904)">1</b></i><i style="width:8px"><b style="width:8.50px;margin-left:-0.25px;transform:scaleX(0.904)">9</b></i><i style="width:8px"><b style="width:8.50px;margin-left:-0.25px;transform:scaleX(0.904)">5</b></i></div><div class="rot val l" style="left:909.97px;top:376.30px;width:24px;height:20px;line-height:20px;font-size:17px"><i style="width:8px"><b style="width:8.50px;margin-left:-0.25px;transform:scaleX(0.904)">1</b></i><i style="width:8px"><b style="width:8.50px;margin-left:-0.25px;transform:scaleX(0.904)">4</b></i><i style="width:8px"><b style="width:8.50px;margin-left:-0.25px;transform:scaleX(0.904)">9</b></i></div><div class="rot lab" style="left:84.18px;top:433.15px;width:56.699999999999996px;height:20px;line-height:20px;font-size:15px"><i style="width:8.1px"><b style="width:10.83px;margin-left:-1.37px;transform:scaleX(0.718)">G</b></i><i style="width:8.1px">e</i><i style="width:8.1px">r</i><i style="width:8.1px"><b style="width:11.67px;margin-left:-1.78px;transform:scaleX(0.666)">m</b></i><i style="width:8.1px">a</i><i style="width:8.1px">n</i><i style="width:8.1px">y</i></div><div class="rot lab" style="left:114.29px;top:429.10px;width:48.599999999999994px;height:20px;line-height:20px;font-size:15px"><i style="width:8.1px"><b style="width:10.00px;margin-left:-0.95px;transform:scaleX(0.777)">B</b></i><i style="width:8.1px">r</i><i style="width:8.1px">a</i><i style="width:8.1px">z</i><i style="width:8.1px">i</i><i style="width:8.1px">l</i></div><div class="rot lab" style="left:144.41px;top:425.05px;width:40.5px;height:20px;line-height:20px;font-size:15px"><i style="width:8.1px"><b style="width:8.34px;margin-left:-0.12px;transform:scaleX(0.932)">S</b></i><i style="width:8.1px">p</i><i style="width:8.1px">a</i><i style="width:8.1px">i</i><i style="width:8.1px">n</i></div><div class="rot lab" style="left:162.37px;top:433.15px;width:56.699999999999996px;height:20px;line-height:20px;font-size:15px"><i style="width:8.1px"><b style="width:10.00px;margin-left:-0.95px;transform:scaleX(0.777)">B</b></i><i style="width:8.1px">e</i><i style="width:8.1px">l</i><i style="width:8.1px">g</i><i style="width:8.1px">i</i><i style="width:8.1px">u</i><i style="width:8.1px"><b style="width:11.67px;margin-left:-1.78px;transform:scaleX(0.666)">m</b></i></div><div class="rot lab" style="left:168.18px;top:453.40px;width:97.19999999999999px;height:20px;line-height:20px;font-size:15px"><i style="width:8.1px"><b style="width:8.34px;margin-left:-0.12px;transform:scaleX(0.932)">S</b></i><i style="width:8.1px">a</i><i style="width:8.1px">u</i><i style="width:8.1px">d</i><i style="width:8.1px">i</i><i style="width:8.1px"> </i><i style="width:8.1px"><b style="width:10.83px;margin-left:-1.37px;transform:scaleX(0.718)">A</b></i><i style="width:8.1px">r</i><i style="width:8.1px">a</i><i style="width:8.1px">b</i><i style="width:8.1px">i</i><i style="width:8.1px">a</i></div><div class="rot lab" style="left:210.44px;top:437.20px;width:64.8px;height:20px;line-height:20px;font-size:15px"><i style="width:8.1px"><b style="width:8.34px;margin-left:-0.12px;transform:scaleX(0.932)">P</b></i><i style="width:8.1px">o</i><i style="width:8.1px">r</i><i style="width:8.1px">t</i><i style="width:8.1px">u</i><i style="width:8.1px">g</i><i style="width:8.1px">a</i><i style="width:8.1px">l</i></div><div class="rot lab" style="left:232.46px;top:441.25px;width:72.89999999999999px;height:20px;line-height:20px;font-size:15px"><i style="width:8.1px"><b style="width:10.83px;margin-left:-1.37px;transform:scaleX(0.718)">A</b></i><i style="width:8.1px">u</i><i style="width:8.1px">s</i><i style="width:8.1px">t</i><i style="width:8.1px">r</i><i style="width:8.1px">a</i><i style="width:8.1px">l</i><i style="width:8.1px">i</i><i style="width:8.1px">a</i></div><div class="rot lab" style="left:250.42px;top:449.35px;width:89.1px;height:20px;line-height:20px;font-size:15px"><i style="width:8.1px"><b style="width:8.34px;margin-left:-0.12px;transform:scaleX(0.932)">S</b></i><i style="width:8.1px"><b style="width:10.83px;margin-left:-1.37px;transform:scaleX(0.718)">w</b></i><i style="width:8.1px">i</i><i style="width:8.1px">t</i><i style="width:8.1px">z</i><i style="width:8.1px">e</i><i style="width:8.1px">r</i><i style="width:8.1px">l</i><i style="width:8.1px">a</i><i style="width:8.1px">n</i><i style="width:8.1px">d</i></div><div class="rot lab" style="left:304.83px;top:421.00px;width:32.4px;height:20px;line-height:20px;font-size:15px"><i style="width:8.1px"><b style="width:8.34px;margin-left:-0.12px;transform:scaleX(0.932)">P</b></i><i style="width:8.1px">e</i><i style="width:8.1px">r</i><i style="width:8.1px">u</i></div><div class="rot lab" style="left:318.74px;top:433.15px;width:56.699999999999996px;height:20px;line-height:20px;font-size:15px"><i style="width:8.1px"><b style="width:9.16px;margin-left:-0.53px;transform:scaleX(0.849)">E</b></i><i style="width:8.1px">n</i><i style="width:8.1px">g</i><i style="width:8.1px">l</i><i style="width:8.1px">a</i><i style="width:8.1px">n</i><i style="width:8.1px">d</i></div><div class="rot lab" style="left:344.81px;top:433.15px;width:56.699999999999996px;height:20px;line-height:20px;font-size:15px"><i style="width:8.1px"><b style="width:10.00px;margin-left:-0.95px;transform:scaleX(0.777)">C</b></i><i style="width:8.1px">r</i><i style="width:8.1px">o</i><i style="width:8.1px">a</i><i style="width:8.1px">t</i><i style="width:8.1px">i</i><i style="width:8.1px">a</i></div><div class="rot lab" style="left:362.77px;top:441.25px;width:72.89999999999999px;height:20px;line-height:20px;font-size:15px"><i style="width:8.1px"><b style="width:10.83px;margin-left:-1.37px;transform:scaleX(0.718)">A</b></i><i style="width:8.1px">r</i><i style="width:8.1px">g</i><i style="width:8.1px">e</i><i style="width:8.1px">n</i><i style="width:8.1px">t</i><i style="width:8.1px">i</i><i style="width:8.1px">n</i><i style="width:8.1px">a</i></div><div class="rot lab" style="left:400.98px;top:429.10px;width:48.599999999999994px;height:20px;line-height:20px;font-size:15px"><i style="width:8.1px"><b style="width:8.34px;margin-left:-0.12px;transform:scaleX(0.932)">P</b></i><i style="width:8.1px">o</i><i style="width:8.1px">l</i><i style="width:8.1px">a</i><i style="width:8.1px">n</i><i style="width:8.1px">d</i></div><div class="rot lab" style="left:418.94px;top:437.20px;width:64.8px;height:20px;line-height:20px;font-size:15px"><i style="width:8.1px"><b style="width:10.00px;margin-left:-0.95px;transform:scaleX(0.777)">C</b></i><i style="width:8.1px">o</i><i style="width:8.1px">l</i><i style="width:8.1px">o</i><i style="width:8.1px"><b style="width:11.67px;margin-left:-1.78px;transform:scaleX(0.666)">m</b></i><i style="width:8.1px">b</i><i style="width:8.1px">i</i><i style="width:8.1px">a</i></div><div class="rot lab" style="left:453.11px;top:429.10px;width:48.599999999999994px;height:20px;line-height:20px;font-size:15px"><i style="width:8.1px"><b style="width:13.34px;margin-left:-2.62px;transform:scaleX(0.583)">M</b></i><i style="width:8.1px">e</i><i style="width:8.1px">x</i><i style="width:8.1px">i</i><i style="width:8.1px">c</i><i style="width:8.1px">o</i></div><div class="rot lab" style="left:479.17px;top:429.10px;width:48.599999999999994px;height:20px;line-height:20px;font-size:15px"><i style="width:8.1px"><b style="width:8.34px;margin-left:-0.12px;transform:scaleX(0.932)">F</b></i><i style="width:8.1px">r</i><i style="width:8.1px">a</i><i style="width:8.1px">n</i><i style="width:8.1px">c</i><i style="width:8.1px">e</i></div><div class="rot lab" style="left:509.28px;top:425.05px;width:40.5px;height:20px;line-height:20px;font-size:15px"><i style="width:8.1px">J</i><i style="width:8.1px">a</i><i style="width:8.1px">p</i><i style="width:8.1px">a</i><i style="width:8.1px">n</i></div><div class="rot lab" style="left:527.24px;top:433.15px;width:56.699999999999996px;height:20px;line-height:20px;font-size:15px"><i style="width:8.1px"><b style="width:9.16px;margin-left:-0.53px;transform:scaleX(0.849)">T</b></i><i style="width:8.1px">u</i><i style="width:8.1px">n</i><i style="width:8.1px">i</i><i style="width:8.1px">s</i><i style="width:8.1px">i</i><i style="width:8.1px">a</i></div><div class="rot lab" style="left:557.36px;top:429.10px;width:48.599999999999994px;height:20px;line-height:20px;font-size:15px"><i style="width:8.1px"><b style="width:8.34px;margin-left:-0.12px;transform:scaleX(0.932)">S</b></i><i style="width:8.1px">e</i><i style="width:8.1px">r</i><i style="width:8.1px">b</i><i style="width:8.1px">i</i><i style="width:8.1px">a</i></div><div class="rot lab" style="left:579.37px;top:433.15px;width:56.699999999999996px;height:20px;line-height:20px;font-size:15px"><i style="width:8.1px"><b style="width:10.83px;margin-left:-1.37px;transform:scaleX(0.718)">N</b></i><i style="width:8.1px">i</i><i style="width:8.1px">g</i><i style="width:8.1px">e</i><i style="width:8.1px">r</i><i style="width:8.1px">i</i><i style="width:8.1px">a</i></div><div class="rot lab" style="left:605.43px;top:433.15px;width:56.699999999999996px;height:20px;line-height:20px;font-size:15px"><i style="width:8.1px"><b style="width:10.83px;margin-left:-1.37px;transform:scaleX(0.718)">D</b></i><i style="width:8.1px">e</i><i style="width:8.1px">n</i><i style="width:8.1px"><b style="width:11.67px;margin-left:-1.78px;transform:scaleX(0.666)">m</b></i><i style="width:8.1px">a</i><i style="width:8.1px">r</i><i style="width:8.1px">k</i></div><div class="rot lab" style="left:619.34px;top:445.30px;width:81.0px;height:20px;line-height:20px;font-size:15px"><i style="width:8.1px"><b style="width:10.00px;margin-left:-0.95px;transform:scaleX(0.777)">C</b></i><i style="width:8.1px">o</i><i style="width:8.1px">s</i><i style="width:8.1px">t</i><i style="width:8.1px">a</i><i style="width:8.1px"> </i><i style="width:8.1px"><b style="width:10.00px;margin-left:-0.95px;transform:scaleX(0.777)">R</b></i><i style="width:8.1px">i</i><i style="width:8.1px">c</i><i style="width:8.1px">a</i></div><div class="rot lab" style="left:657.56px;top:433.15px;width:56.699999999999996px;height:20px;line-height:20px;font-size:15px"><i style="width:8.1px"><b style="width:13.34px;margin-left:-2.62px;transform:scaleX(0.583)">M</b></i><i style="width:8.1px">o</i><i style="width:8.1px">r</i><i style="width:8.1px">o</i><i style="width:8.1px">c</i><i style="width:8.1px">c</i><i style="width:8.1px">o</i></div><div class="rot lab" style="left:683.62px;top:433.15px;width:56.699999999999996px;height:20px;line-height:20px;font-size:15px"><i style="width:8.1px"><b style="width:10.83px;margin-left:-1.37px;transform:scaleX(0.718)">U</b></i><i style="width:8.1px">r</i><i style="width:8.1px">u</i><i style="width:8.1px">g</i><i style="width:8.1px">u</i><i style="width:8.1px">a</i><i style="width:8.1px">y</i></div><div class="rot lab" style="left:717.78px;top:425.05px;width:40.5px;height:20px;line-height:20px;font-size:15px"><i style="width:8.1px"><b style="width:9.16px;margin-left:-0.53px;transform:scaleX(0.849)">E</b></i><i style="width:8.1px">g</i><i style="width:8.1px">y</i><i style="width:8.1px">p</i><i style="width:8.1px">t</i></div><div class="rot lab" style="left:739.79px;top:429.10px;width:48.599999999999994px;height:20px;line-height:20px;font-size:15px"><i style="width:8.1px"><b style="width:8.34px;margin-left:-0.12px;transform:scaleX(0.932)">P</b></i><i style="width:8.1px">a</i><i style="width:8.1px">n</i><i style="width:8.1px">a</i><i style="width:8.1px"><b style="width:11.67px;margin-left:-1.78px;transform:scaleX(0.666)">m</b></i><i style="width:8.1px">a</i></div><div class="rot lab" style="left:765.86px;top:429.10px;width:48.599999999999994px;height:20px;line-height:20px;font-size:15px"><i style="width:8.1px"><b style="width:10.00px;margin-left:-0.95px;transform:scaleX(0.777)">R</b></i><i style="width:8.1px">u</i><i style="width:8.1px">s</i><i style="width:8.1px">s</i><i style="width:8.1px">i</i><i style="width:8.1px">a</i></div><div class="rot lab" style="left:787.87px;top:433.15px;width:56.699999999999996px;height:20px;line-height:20px;font-size:15px"><i style="width:8.1px"><b style="width:8.34px;margin-left:-0.12px;transform:scaleX(0.932)">S</b></i><i style="width:8.1px">e</i><i style="width:8.1px">n</i><i style="width:8.1px">e</i><i style="width:8.1px">g</i><i style="width:8.1px">a</i><i style="width:8.1px">l</i></div><div class="rot lab" style="left:813.93px;top:433.15px;width:56.699999999999996px;height:20px;line-height:20px;font-size:15px"><i style="width:8.1px">I</i><i style="width:8.1px">c</i><i style="width:8.1px">e</i><i style="width:8.1px">l</i><i style="width:8.1px">a</i><i style="width:8.1px">n</i><i style="width:8.1px">d</i></div><div class="rot lab" style="left:848.09px;top:425.05px;width:40.5px;height:20px;line-height:20px;font-size:15px"><i style="width:8.1px"><b style="width:10.83px;margin-left:-1.37px;transform:scaleX(0.718)">K</b></i><i style="width:8.1px">o</i><i style="width:8.1px">r</i><i style="width:8.1px">e</i><i style="width:8.1px">a</i></div><div class="rot lab" style="left:870.11px;top:429.10px;width:48.599999999999994px;height:20px;line-height:20px;font-size:15px"><i style="width:8.1px"><b style="width:8.34px;margin-left:-0.12px;transform:scaleX(0.932)">S</b></i><i style="width:8.1px"><b style="width:10.83px;margin-left:-1.37px;transform:scaleX(0.718)">w</b></i><i style="width:8.1px">e</i><i style="width:8.1px">d</i><i style="width:8.1px">e</i><i style="width:8.1px">n</i></div><div class="rot lab" style="left:904.27px;top:421.00px;width:32.4px;height:20px;line-height:20px;font-size:15px"><i style="width:8.1px">I</i><i style="width:8.1px">r</i><i style="width:8.1px">a</i><i style="width:8.1px">n</i></div><div style="position:absolute;left:867px;top:401.4px;width:2px;height:2px;background:#f6f8ff;border-radius:30%"></div><div style="position:absolute;left:867px;top:406.0px;width:2px;height:2px;background:#f6f8ff;border-radius:30%"></div><div style="position:absolute;left:867px;top:410.7px;width:2px;height:2px;background:#f6f8ff;border-radius:30%"></div><div class="yl" style="left:82.00px;top:398.00px;height:16px;line-height:16px;font-size:13px"><i style="width:6.5px"><b style="width:6.50px;margin-left:-0.00px;transform:scaleX(0.960)">0</b></i></div><div class="yl" style="left:75.50px;top:370.30px;height:16px;line-height:16px;font-size:13px"><i style="width:6.5px"><b style="width:6.50px;margin-left:-0.00px;transform:scaleX(0.960)">5</b></i><i style="width:6.5px"><b style="width:6.50px;margin-left:-0.00px;transform:scaleX(0.960)">0</b></i></div><div class="yl" style="left:69.00px;top:342.60px;height:16px;line-height:16px;font-size:13px"><i style="width:6.5px"><b style="width:6.50px;margin-left:-0.00px;transform:scaleX(0.960)">1</b></i><i style="width:6.5px"><b style="width:6.50px;margin-left:-0.00px;transform:scaleX(0.960)">0</b></i><i style="width:6.5px"><b style="width:6.50px;margin-left:-0.00px;transform:scaleX(0.960)">0</b></i></div><div class="yl" style="left:69.00px;top:314.90px;height:16px;line-height:16px;font-size:13px"><i style="width:6.5px"><b style="width:6.50px;margin-left:-0.00px;transform:scaleX(0.960)">1</b></i><i style="width:6.5px"><b style="width:6.50px;margin-left:-0.00px;transform:scaleX(0.960)">5</b></i><i style="width:6.5px"><b style="width:6.50px;margin-left:-0.00px;transform:scaleX(0.960)">0</b></i></div><div class="yl" style="left:69.00px;top:287.20px;height:16px;line-height:16px;font-size:13px"><i style="width:6.5px"><b style="width:6.50px;margin-left:-0.00px;transform:scaleX(0.960)">2</b></i><i style="width:6.5px"><b style="width:6.50px;margin-left:-0.00px;transform:scaleX(0.960)">0</b></i><i style="width:6.5px"><b style="width:6.50px;margin-left:-0.00px;transform:scaleX(0.960)">0</b></i></div><div class="yl" style="left:69.00px;top:259.50px;height:16px;line-height:16px;font-size:13px"><i style="width:6.5px"><b style="width:6.50px;margin-left:-0.00px;transform:scaleX(0.960)">2</b></i><i style="width:6.5px"><b style="width:6.50px;margin-left:-0.00px;transform:scaleX(0.960)">5</b></i><i style="width:6.5px"><b style="width:6.50px;margin-left:-0.00px;transform:scaleX(0.960)">0</b></i></div><div class="yl" style="left:69.00px;top:231.80px;height:16px;line-height:16px;font-size:13px"><i style="width:6.5px"><b style="width:6.50px;margin-left:-0.00px;transform:scaleX(0.960)">3</b></i><i style="width:6.5px"><b style="width:6.50px;margin-left:-0.00px;transform:scaleX(0.960)">0</b></i><i style="width:6.5px"><b style="width:6.50px;margin-left:-0.00px;transform:scaleX(0.960)">0</b></i></div><div class="yl" style="left:69.00px;top:204.10px;height:16px;line-height:16px;font-size:13px"><i style="width:6.5px"><b style="width:6.50px;margin-left:-0.00px;transform:scaleX(0.960)">3</b></i><i style="width:6.5px"><b style="width:6.50px;margin-left:-0.00px;transform:scaleX(0.960)">5</b></i><i style="width:6.5px"><b style="width:6.50px;margin-left:-0.00px;transform:scaleX(0.960)">0</b></i></div><div class="yl" style="left:69.00px;top:176.40px;height:16px;line-height:16px;font-size:13px"><i style="width:6.5px"><b style="width:6.50px;margin-left:-0.00px;transform:scaleX(0.960)">4</b></i><i style="width:6.5px"><b style="width:6.50px;margin-left:-0.00px;transform:scaleX(0.960)">0</b></i><i style="width:6.5px"><b style="width:6.50px;margin-left:-0.00px;transform:scaleX(0.960)">0</b></i></div><div class="yl" style="left:69.00px;top:148.70px;height:16px;line-height:16px;font-size:13px"><i style="width:6.5px"><b style="width:6.50px;margin-left:-0.00px;transform:scaleX(0.960)">4</b></i><i style="width:6.5px"><b style="width:6.50px;margin-left:-0.00px;transform:scaleX(0.960)">5</b></i><i style="width:6.5px"><b style="width:6.50px;margin-left:-0.00px;transform:scaleX(0.960)">0</b></i></div>
<div class="axis"></div>
<div style="position:absolute;left:301.5px;top:69.4px;width:14px;height:1.4px;background:#eef2ff"></div>
<div style="position:absolute;left:0;top:539px;width:960px;height:1px;background:rgb(34,56,116)"></div>
</body></html>
